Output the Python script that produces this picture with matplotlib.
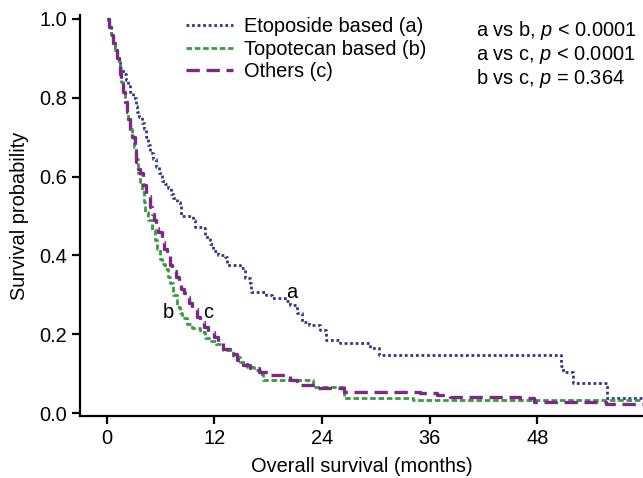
import matplotlib
matplotlib.use("Agg")
import matplotlib.pyplot as plt

plt.rcParams['font.family'] = ['Liberation Sans', 'DejaVu Sans']
plt.rcParams['mathtext.fontset'] = 'custom'
plt.rcParams['mathtext.rm'] = 'Liberation Sans'
plt.rcParams['mathtext.it'] = 'Liberation Sans:italic'

# ---- data (Kaplan-Meier steps: time in months, survival after the step) ----
etoposide_t = [0, 0.2, 0.45, 0.7, 0.9, 1.1, 1.3, 1.5, 1.8, 2.1, 2.4, 2.6, 2.9, 3.2, 3.4, 3.6,
               3.9, 4.1, 4.4, 4.6, 4.8, 5.1, 5.5, 5.8, 6.1, 6.5, 6.8, 7.1, 7.4, 7.8, 8.1, 8.3,
               9.6, 9.8, 10.7, 10.9, 11.5, 11.8, 12.4, 13.2, 13.4, 14.8, 15.4, 16.0, 16.1,
               17.8, 18.4, 19.9, 20.4, 21.2, 21.8, 22.5, 23.8, 24.4, 26.0, 29.3, 30.4, 50.6,
               50.9, 52.0, 55.8, 60.0]
etoposide_s = [1.0, 0.98, 0.96, 0.94, 0.92, 0.90, 0.89, 0.875, 0.86, 0.845, 0.83, 0.815, 0.80,
               0.78, 0.765, 0.75, 0.735, 0.72, 0.70, 0.68, 0.66, 0.645, 0.625, 0.61, 0.59, 0.58,
               0.57, 0.555, 0.545, 0.535, 0.525, 0.50, 0.49, 0.473, 0.469, 0.447, 0.43, 0.41,
               0.401, 0.397, 0.376, 0.367, 0.342, 0.329, 0.308, 0.30, 0.291, 0.283, 0.274,
               0.253, 0.232, 0.223, 0.211, 0.185, 0.177, 0.164, 0.147, 0.12, 0.105, 0.075,
               0.037, 0.037]

topotecan_t = [0, 0.2, 0.45, 0.7, 0.9, 1.1, 1.3, 1.45, 1.6, 1.8, 2.0, 2.2, 2.4, 2.6, 2.8, 3.0,
               3.2, 3.5, 3.7, 3.9, 4.1, 4.3, 4.6, 5.0, 5.4, 5.6, 5.9, 6.2, 6.5, 6.8, 7.0, 7.4,
               7.8, 8.1, 8.4, 8.9, 9.5, 10.4, 10.9, 11.6, 12.2, 13.0, 14.1, 14.8, 15.6, 16.4,
               17.1, 17.4, 23.0, 26.4, 34.2, 60.0]
topotecan_s = [1.0, 0.98, 0.96, 0.94, 0.92, 0.90, 0.885, 0.86, 0.84, 0.815, 0.79, 0.765, 0.745,
               0.72, 0.70, 0.675, 0.645, 0.61, 0.585, 0.56, 0.535, 0.51, 0.49, 0.464, 0.44,
               0.415, 0.39, 0.378, 0.365, 0.345, 0.33, 0.30, 0.27, 0.255, 0.24, 0.225, 0.215,
               0.206, 0.19, 0.183, 0.175, 0.16, 0.143, 0.13, 0.118, 0.108, 0.10, 0.083, 0.065,
               0.037, 0.033, 0.033]

others_t = [0, 0.2, 0.45, 0.7, 0.9, 1.1, 1.3, 1.45, 1.6, 1.8, 2.0, 2.2, 2.4, 2.6, 2.8, 3.1,
            3.3, 3.5, 3.7, 4.05, 4.4, 4.8, 5.0, 5.2, 5.5, 5.7, 6.1, 6.4, 6.7, 7.0, 7.3, 7.7,
            8.0, 8.3, 8.6, 8.9, 9.2, 9.5, 10.0, 10.4, 10.8, 11.3, 11.9, 12.4, 13.0, 13.7,
            14.5, 15.2, 16.0, 17.0, 18.2, 20.4, 21.2, 23.4, 26.4, 34.9, 36.8, 38.3, 46.1,
            47.6, 55.7, 60.0]
others_s = [1.0, 0.98, 0.96, 0.94, 0.92, 0.90, 0.88, 0.86, 0.84, 0.815, 0.79, 0.765, 0.745,
            0.72, 0.70, 0.676, 0.638, 0.62, 0.608, 0.579, 0.55, 0.524, 0.505, 0.49, 0.47,
            0.46, 0.435, 0.415, 0.40, 0.376, 0.36, 0.345, 0.33, 0.315, 0.305, 0.295, 0.28,
            0.265, 0.244, 0.23, 0.218, 0.205, 0.194, 0.18, 0.163, 0.15, 0.135, 0.122, 0.113,
            0.104, 0.096, 0.084, 0.071, 0.063, 0.054, 0.05, 0.046, 0.041, 0.037, 0.028,
            0.024, 0.024]

series_labels = ['Etoposide based (a)', 'Topotecan based (b)', 'Others (c)']
pvalue_texts = [r'a vs b, $p$ < 0.0001', r'a vs c, $p$ < 0.0001', r'b vs c, $p$ = 0.364']
x_ticks = [0, 12, 24, 36, 48]
y_ticks = [0.0, 0.2, 0.4, 0.6, 0.8, 1.0]

FS = 14.4

# ---- figure ----
fig = plt.figure(figsize=(6.43, 4.78), dpi=100)
ax = fig.add_axes([80 / 643, 62 / 478, 563 / 643, 401 / 478])

c_a = '#2f3590'
c_b = '#3a9a3e'
c_c = '#7a2a86'

ax.step(etoposide_t, etoposide_s, where='post', color=c_a, lw=2.0,
        linestyle=(0, (1, 1)), label=series_labels[0])
ax.step(topotecan_t, topotecan_s, where='post', color=c_b, lw=2.0,
        linestyle=(0, (2, 1)), label=series_labels[1])
ax.step(others_t, others_s, where='post', color=c_c, lw=2.4,
        linestyle=(0, (4, 2)), label=series_labels[2])

ax.set_xlim(-3.0, 59.8)
ax.set_ylim(-0.0076, 1.01)
ax.set_xticks(x_ticks)
ax.set_xticklabels([str(v) for v in x_ticks])
ax.set_yticks(y_ticks)
ax.set_yticklabels([f'{v:.1f}' for v in y_ticks])

for s in ['top', 'right']:
    ax.spines[s].set_visible(False)
for s in ['left', 'bottom']:
    ax.spines[s].set_linewidth(1.6)
ax.tick_params(axis='both', direction='out', length=6, width=1.6, labelsize=FS, pad=3)

ax.set_xlabel('Overall survival (months)', fontsize=FS, labelpad=7)
ax.set_ylabel('Survival probability', fontsize=FS, labelpad=8)

leg = ax.legend(loc='upper left', bbox_to_anchor=(186 / 643, 1 - 17 / 478),
                bbox_transform=fig.transFigure, frameon=False, fontsize=FS,
                handlelength=2.35, handletextpad=0.55, labelspacing=0.18,
                borderpad=0.0, borderaxespad=0)

for i, t in enumerate(pvalue_texts):
    fig.text(476 / 643, 1 - (31 + i * 23.5) / 478, t, fontsize=FS,
             ha='left', va='center')

ax.text(20.6, 0.305, 'a', fontsize=FS, ha='center', va='center')
ax.text(6.8, 0.254, 'b', fontsize=FS, ha='center', va='center')
ax.text(11.3, 0.254, 'c', fontsize=FS, ha='center', va='center')

fig.savefig('out.png', dpi=100)
